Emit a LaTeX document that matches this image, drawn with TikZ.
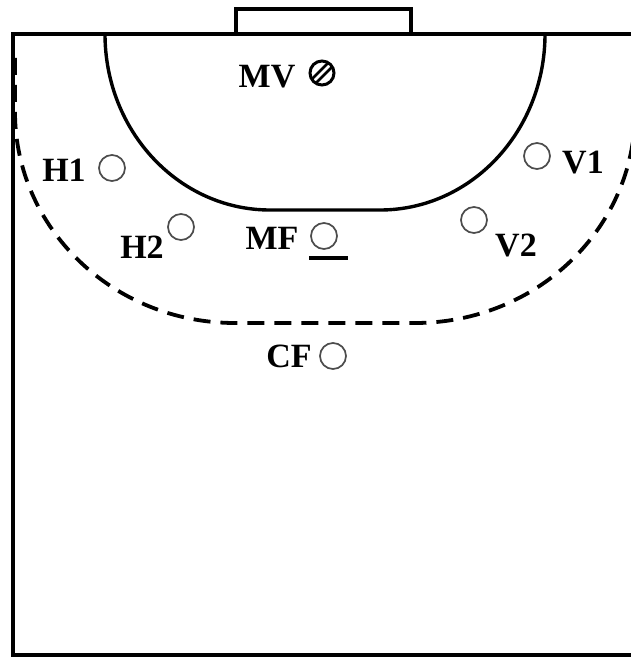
\documentclass[tikz,border=0pt]{standalone}
\usepackage{fontspec}
\setmainfont{Liberation Serif}
\begin{document}
\begin{tikzpicture}[x=1pt,y=-1pt,
  court/.style={line width=3.4pt, line join=miter},
  ninem/.style={line width=3.8pt, dash pattern=on 17pt off 10pt},
  player/.style={circle, draw=black!70, line width=1.7pt, minimum size=26pt, inner sep=0pt},
  lbl/.style={inner sep=0pt, font=\fontsize{34}{36}\selectfont\bfseries}]
\useasboundingbox (0,0) rectangle (630,658);
% goal
\draw[court] (236,34) -- (236,9) -- (411,9) -- (411,34);
% court border
\draw[court] (645,34) -- (13,34) -- (13,655) -- (645,655);
% goal area (6 m)
\draw[court] (105,34) arc[start angle=180, end angle=90, x radius=165, y radius=176]
  -- (380,210) arc[start angle=90, end angle=0, x radius=165, y radius=176];
% free throw line (9 m)
\draw[ninem] (15,58) -- (15,112) arc[start angle=180, end angle=90, x radius=220, y radius=211]
  -- (415,323) arc[start angle=90, end angle=0, x radius=220, y radius=211] -- (635,58);
% goalkeeper
\node[circle, draw=black, line width=3pt, minimum size=24pt, inner sep=0pt] (mv) at (322,73) {};
\begin{scope}
  \clip (mv.center) circle (11pt);
  \draw[line width=2.8pt] ([shift={(-15,11)}]mv.center) -- ([shift={(11,-15)}]mv.center);
  \draw[line width=2.8pt] ([shift={(-11,15)}]mv.center) -- ([shift={(15,-11)}]mv.center);
\end{scope}
\node[lbl] (mvl) at (267,77) {MV};
% players
\node[player] (h1) at (112,168) {};
\node[lbl] (h1l) at (64,170) {H1};
\node[player] (h2) at (181,227) {};
\node[lbl] (h2l) at (142,247) {H2};
\node[player] (mf) at (324,236) {};
\node[lbl] (mfl) at (272,238) {MF};
\coordinate (mfa) at (309,258);
\coordinate (mfb) at (348,258);
\draw[line width=3.2pt] (mfa) -- (mfb);
\node[player] (v1) at (537,156) {};
\node[lbl] (v1l) at (583,163) {V1};
\node[player] (v2) at (474,220) {};
\node[lbl] (v2l) at (516,245) {V2};
\node[player] (cf) at (333,356) {};
\node[lbl] (cfl) at (289,356) {CF};
\end{tikzpicture}
\end{document}
